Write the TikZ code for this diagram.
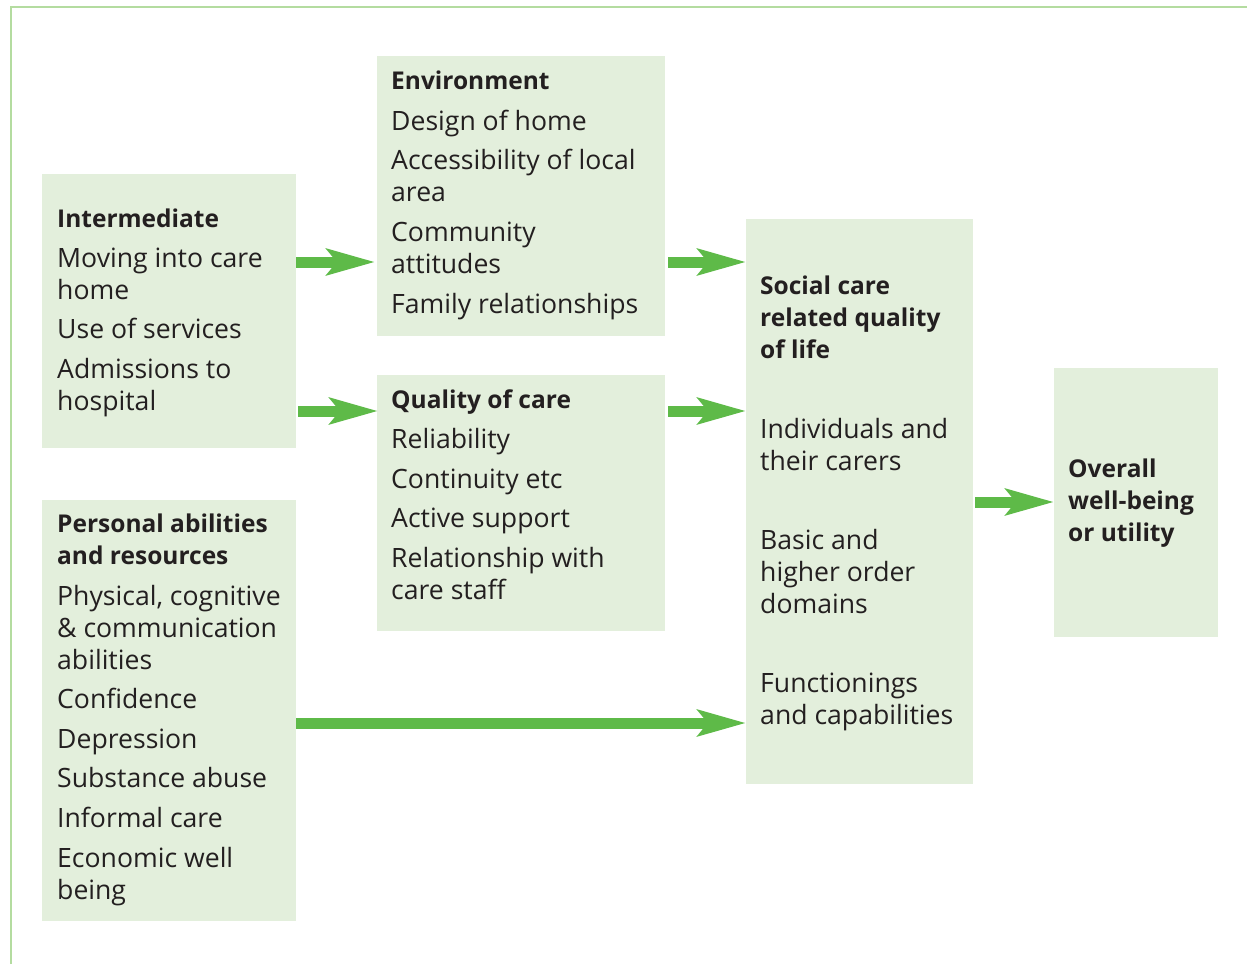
\documentclass[tikz,border=0pt]{standalone}
\usepackage{fontspec}
\setmainfont{Open Sans}
\usetikzlibrary{arrows.meta}
\definecolor{boxfill}{RGB}{227,239,220}
\definecolor{arrowgreen}{RGB}{94,186,72}
\definecolor{framegreen}{RGB}{180,220,160}
\definecolor{txtcol}{RGB}{35,31,32}
\tikzset{
  panel/.style={fill=boxfill, draw=none, inner sep=0pt, anchor=north west},
  body/.style={anchor=base west, inner sep=0pt, text=txtcol, font=\fontsize{26.6}{32}\selectfont},
  head/.style={anchor=base west, inner sep=0pt, text=txtcol, font=\fontsize{24.5}{32}\selectfont\bfseries},
  flow/.style={draw=arrowgreen, line width=11pt, -{Stealth[length=48pt, width=26pt, inset=10pt, fill=arrowgreen]}}
}
\begin{document}
\begin{tikzpicture}[x=1pt,y=-1pt]
\useasboundingbox (0,0) rectangle (1247,964);
% frame
\draw[framegreen, line width=2.5pt] (11,964) -- (11,7) -- (1247,7);
% panels
\node[panel, minimum width=254pt, minimum height=274pt] (inter) at (42,174) {};
\node[panel, minimum width=288pt, minimum height=280pt] (env) at (377,56) {};
\node[panel, minimum width=288pt, minimum height=256pt] (qual) at (377,375) {};
\node[panel, minimum width=254pt, minimum height=421pt] (pers) at (42,500) {};
\node[panel, minimum width=227pt, minimum height=565pt] (social) at (746,219) {};
\node[panel, minimum width=164pt, minimum height=269pt] (overall) at (1054,368) {};
% Intermediate
\node[head] (i0) at (57,227) {Intermediate};
\node[body] (i1) at (57,267) {Moving into care};
\node[body] (i2) at (57,299) {home};
\node[body] (i3) at (57,338) {Use of services};
\node[body] (i4) at (57,378) {Admissions to};
\node[body] (i5) at (57,410) {hospital};
% Environment
\node[head] (e0) at (391,89) {Environment};
\node[body] (e1) at (391,130) {Design of home};
\node[body] (e2) at (391,169) {Accessibility of local};
\node[body] (e3) at (391,201) {area};
\node[body] (e4) at (391,241) {Community};
\node[body] (e5) at (391,273) {attitudes};
\node[body] (e6) at (391,313) {Family relationships};
% Quality of care
\node[head] (q0) at (391,408) {Quality of care};
\node[body] (q1) at (391,448) {Reliability};
\node[body] (q2) at (391,488) {Continuity etc};
\node[body] (q3) at (391,527) {Active support};
\node[body] (q4) at (391,567) {Relationship with};
\node[body] (q5) at (391,599) {care staff};
% Personal abilities
\node[head] (p0) at (57,532) {Personal abilities};
\node[head] (p1) at (57,564) {and resources};
\node[body] (p2) at (57,605) {Physical, cognitive};
\node[body] (p3) at (57,637) {\& communication};
\node[body] (p4) at (57,669) {abilities};
\node[body] (p5) at (57,708) {Confidence};
\node[body] (p6) at (57,748) {Depression};
\node[body] (p7) at (57,787) {Substance abuse};
\node[body] (p8) at (57,827) {Informal care};
\node[body] (p9) at (57,867) {Economic well};
\node[body] (p10) at (57,899) {being};
% Social care
\node[head] (s0) at (760,294) {Social care};
\node[head] (s1) at (760,326) {related quality};
\node[head] (s2) at (760,358) {of life};
\node[body] (s3) at (760,438) {Individuals and};
\node[body] (s4) at (760,470) {their carers};
\node[body] (s5) at (760,549) {Basic and};
\node[body] (s6) at (760,581) {higher order};
\node[body] (s7) at (760,613) {domains};
\node[body] (s8) at (760,692) {Functionings};
\node[body] (s9) at (760,724) {and capabilities};
% Overall
\node[head] (o0) at (1068,477) {Overall};
\node[head] (o1) at (1068,509) {well-being};
\node[head] (o2) at (1068,541) {or utility};
% arrows
\draw[flow] (inter.east |- 0,262) -- ([xshift=-2pt]env.west |- 0,262);
\draw[flow] ([xshift=2pt]inter.east |- 0,411) -- ([xshift=1pt]qual.west |- 0,411);
\draw[flow] ([xshift=3pt]env.east |- 0,262) -- (social.west |- 0,262);
\draw[flow] ([xshift=3pt]qual.east |- 0,411) -- (social.west |- 0,411);
\draw[flow] (pers.east |- 0,723) -- (social.west |- 0,723);
\draw[flow] ([xshift=2pt]social.east |- 0,502) -- (overall.west |- 0,502);
\end{tikzpicture}
\end{document}
